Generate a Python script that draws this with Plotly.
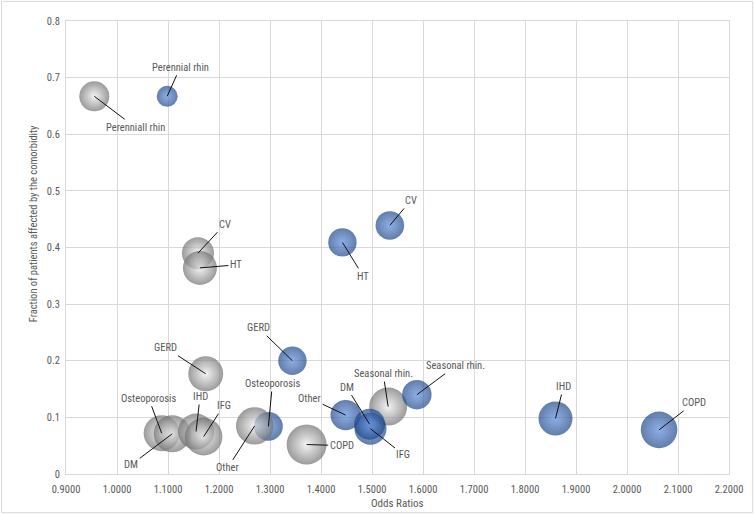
import math
import plotly.graph_objects as go

# ---- data ----
gray_labels = ["Perenniall rhin", "CV", "HT", "GERD", "Osteoporosis", "DM", "IHD", "IFG",
               "Other", "COPD", "Seasonal rhin."]
gray_or = [0.9555, 1.1587, 1.1626, 1.1740, 1.0876, 1.1083, 1.1550, 1.1699, 1.2699, 1.3718, 1.5317]
gray_frac = [0.667, 0.390, 0.364, 0.177, 0.072, 0.071, 0.075, 0.066, 0.085, 0.052, 0.119]
gray_size = [22.5, 25.6, 28.9, 30.6, 32.4, 34.2, 32.4, 35.3, 35.0, 40.0, 36.1]

blue_labels = ["Perennial rhin", "CV", "HT", "GERD", "Osteoporosis", "Other", "IFG", "DM",
               "Seasonal rhin.", "IHD", "COPD"]
blue_or = [1.0984, 1.5350, 1.4420, 1.3440, 1.2969, 1.4484, 1.4970, 1.4953, 1.5880, 1.8598, 2.0629]
blue_frac = [0.667, 0.439, 0.409, 0.200, 0.084, 0.104, 0.080, 0.088, 0.140, 0.098, 0.078]
blue_size = [11.0, 20.4, 20.2, 20.2, 20.7, 23.1, 25.6, 24.0, 21.6, 28.9, 33.5]

x_ticks = [0.9, 1.0, 1.1, 1.2, 1.3, 1.4, 1.5, 1.6, 1.7, 1.8, 1.9, 2.0, 2.1, 2.2]
y_ticks = [0, 0.1, 0.2, 0.3, 0.4, 0.5, 0.6, 0.7, 0.8]

# label offsets (px) label centre relative to bubble centre
gray_off = [(41, 31), (27, -29), (36, -3), (-40, -26), (-13, -35), (-41, 31), (4, -35),
            (20, -31), (-27, 42), (35, 1), (-5, -33)]
blue_off = [(13, -29), (21, -25), (21, 34), (-34, -33), (4, -43), (-36, -17), (33, 26),
            (-23, -37), (39, -29), (8, -32), (35, -27)]

FONT = "Liberation Sans Narrow, Roboto Condensed, Arial Narrow, sans-serif"
TXT = "#595959"
GRID = "#d9d9d9"


def diam(s):
    return 2 * math.sqrt(s * 10)


fig = go.Figure()


def add_bubbles(xs, ys, ss, edge, center, idx):
    fig.add_trace(go.Scatter(
        x=[xs[i] for i in idx], y=[ys[i] for i in idx], mode="markers",
        marker=dict(size=[diam(ss[i]) for i in idx], sizemode="diameter", color=edge,
                    line=dict(width=0),
                    gradient=dict(type="radial", color=center)),
        showlegend=False, hoverinfo="skip"))


BLUE_EDGE, BLUE_CENTER = "#1f4686", "#5d8cdb"
GRAY_EDGE, GRAY_CENTER = "#707070", "#eeeeee"

blue_back = [4]
blue_front = [i for i in range(len(blue_or)) if i not in blue_back]
add_bubbles(blue_or, blue_frac, blue_size, BLUE_EDGE, BLUE_CENTER, blue_back)
add_bubbles(gray_or, gray_frac, gray_size, GRAY_EDGE, GRAY_CENTER, list(range(len(gray_or))))
add_bubbles(blue_or, blue_frac, blue_size, BLUE_EDGE, BLUE_CENTER, blue_front)

for labels, xs, ys, offs in [(gray_labels, gray_or, gray_frac, gray_off),
                             (blue_labels, blue_or, blue_frac, blue_off)]:
    for lab, x, y, (ox, oy) in zip(labels, xs, ys, offs):
        fig.add_annotation(x=x, y=y, text=lab, showarrow=True, arrowhead=0, arrowwidth=1,
                           arrowcolor="#111111", ax=ox, ay=oy, standoff=0, startstandoff=0,
                           font=dict(family=FONT, size=10.5, color=TXT), borderpad=1)

fig.add_annotation(x=-0.0498, y=0.5536, xref="paper", yref="paper", showarrow=False,
                   text="Fraction of patients affected by the comorbidity", textangle=-90,
                   font=dict(family=FONT, size=10.5, color=TXT), xanchor="center",
                   yanchor="middle")
fig.add_annotation(x=0.5, y=-0.0656, xref="paper", yref="paper", showarrow=False,
                   text="Odds Ratios", font=dict(family=FONT, size=11, color=TXT),
                   xanchor="center", yanchor="middle")

fig.add_shape(type="rect", xref="paper", yref="paper", x0=-0.0972, x1=1.0357,
              y0=-0.0854, y1=1.0433, line=dict(color=GRID, width=1), layer="below")

fig.update_xaxes(range=[0.9, 2.2], tickvals=x_ticks, ticktext=[f"{v:.4f}" for v in x_ticks],
                 showgrid=True, gridcolor=GRID, gridwidth=1, zeroline=False,
                 showline=True, linecolor=GRID, mirror=True, ticks="",
                 ticklabelstandoff=5,
                 tickfont=dict(family=FONT, size=10.5, color=TXT))
fig.update_yaxes(range=[0, 0.8], tickvals=y_ticks, ticktext=[f"{v:g}" for v in y_ticks],
                 showgrid=True, gridcolor=GRID, gridwidth=1, zeroline=False,
                 showline=True, linecolor=GRID, mirror=True, ticks="",
                 ticklabelstandoff=3,
                 tickfont=dict(family=FONT, size=10.5, color=TXT))
fig.update_layout(width=755, height=515, margin=dict(l=66, r=26, t=21, b=41),
                  paper_bgcolor="white", plot_bgcolor="white", hovermode=False)
fig.write_html("out.html", config={"displayModeBar": False, "staticPlot": True},
               post_script="document.body.style.margin='0px';document.body.style.padding='0px';")
